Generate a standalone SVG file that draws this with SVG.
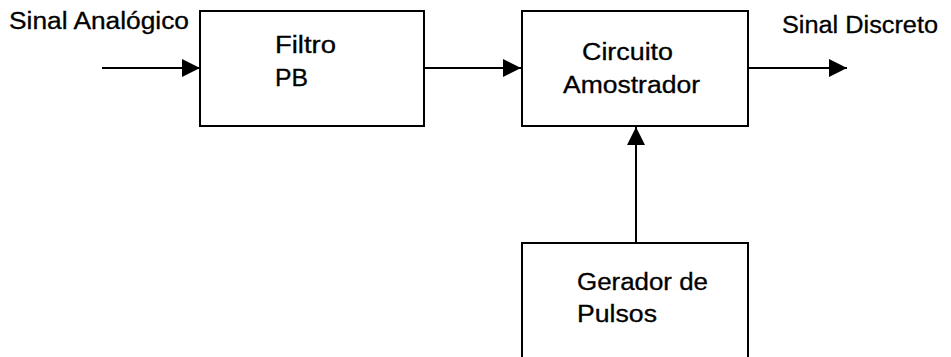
<svg xmlns="http://www.w3.org/2000/svg" width="951" height="357" viewBox="0 0 951 357">
<style>
.box{fill:none;stroke:#000;stroke-width:2}
.ln{stroke:#000;stroke-width:2;fill:none;marker-end:url(#ah)}
text{font-family:"Liberation Sans",Arial,sans-serif;font-size:23px;fill:#000;stroke:#000;stroke-width:0.3}
</style>
<defs>
<marker id="ah" markerUnits="userSpaceOnUse" markerWidth="18" markerHeight="18" refX="18" refY="9" orient="auto">
<path d="M0,0 L18,9 L0,18 z" fill="#000"/>
</marker>
</defs>
<rect width="951" height="357" fill="#fff"/>
<g id="connectors">
<line class="ln" x1="102" y1="68" x2="200" y2="68"/>
<line class="ln" x1="424" y1="68" x2="521" y2="68"/>
<line class="ln" x1="748" y1="68" x2="847" y2="68"/>
<line class="ln" x1="636" y1="243" x2="636" y2="127"/>
</g>
<g id="label-in"><text x="9" y="29" textLength="180" lengthAdjust="spacingAndGlyphs">Sinal Analógico</text></g>
<g id="label-out"><text x="782" y="33" textLength="156" lengthAdjust="spacingAndGlyphs">Sinal Discreto</text></g>
<g id="filtro">
<rect class="box" x="200" y="11" width="224" height="115"/>
<text x="275" y="53" textLength="61" lengthAdjust="spacingAndGlyphs">Filtro</text>
<text x="275" y="86" textLength="33" lengthAdjust="spacingAndGlyphs">PB</text>
</g>
<g id="circuito">
<rect class="box" x="522" y="11" width="226" height="115"/>
<text x="582" y="60" textLength="91" lengthAdjust="spacingAndGlyphs">Circuito</text>
<text x="563" y="93" textLength="137" lengthAdjust="spacingAndGlyphs">Amostrador</text>
</g>
<g id="gerador">
<rect class="box" x="522" y="243" width="226" height="130"/>
<text x="577" y="290" textLength="131" lengthAdjust="spacingAndGlyphs">Gerador de</text>
<text x="577" y="322" textLength="80" lengthAdjust="spacingAndGlyphs">Pulsos</text>
</g>
</svg>
